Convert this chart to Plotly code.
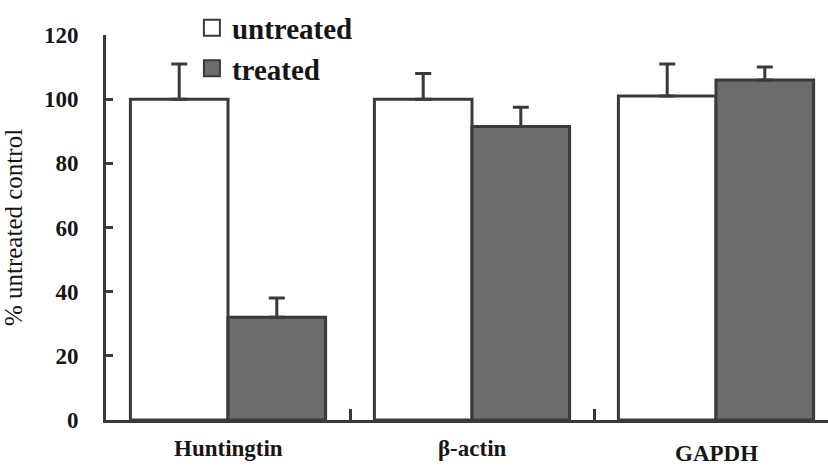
import plotly.graph_objects as go

# mRNA levels after treatment, as % of the untreated control
categories = ["Huntingtin", "β-actin", "GAPDH"]
untreated = [100, 100, 101]
untreated_err = [11, 8, 10]
treated = [32, 91.5, 106]
treated_err = [6, 6, 4]
y_ticks = [0, 20, 40, 60, 80, 100, 120]

SERIF = "Liberation Serif, Times New Roman, serif"
INK = "#3a3a3a"
TEXT = "#161616"
DARK_FILL = "#6c6c6c"

fig = go.Figure()

fig.add_trace(go.Bar(
    x=categories, y=untreated, name="untreated", showlegend=False,
    marker=dict(color="white", line=dict(color=INK, width=3)),
    error_y=dict(type="data", symmetric=False, array=untreated_err,
                 arrayminus=[0] * len(untreated), color=INK, thickness=3, width=8),
))
fig.add_trace(go.Bar(
    x=categories, y=treated, name="treated", showlegend=False,
    marker=dict(color=DARK_FILL, line=dict(color=INK, width=3)),
    error_y=dict(type="data", symmetric=False, array=treated_err,
                 arrayminus=[0] * len(treated), color=INK, thickness=3, width=8),
))

# legend entries with larger square swatches
for name, fill, grp in [("untreated", "white", "a"), ("treated", DARK_FILL, "b")]:
    fig.add_trace(go.Scatter(
        x=[None], y=[None], mode="markers", name=name, legendgroup=grp,
        marker=dict(symbol="square", size=16, color=fill, line=dict(color=INK, width=2)),
    ))

# category labels under each group
label_shift = [-28, -28, -33]
for cat, dy in zip(categories, label_shift):
    fig.add_annotation(
        x=cat, y=0, xref="x", yref="y", yshift=dy, showarrow=False,
        text=cat, font=dict(family=SERIF, size=23, color=TEXT, weight="bold"),
        yanchor="middle",
    )

fig.update_layout(
    width=828, height=467,
    margin=dict(l=106, r=0, t=35, b=47, autoexpand=False),
    paper_bgcolor="white", plot_bgcolor="white",
    barmode="group", bargap=0.2, bargroupgap=0,
    showlegend=True,
    legend=dict(
        x=0.119, y=1.085, xanchor="left", yanchor="top",
        font=dict(family=SERIF, size=29, color=TEXT, weight="bold"),
        itemsizing="trace", tracegroupgap=4, bgcolor="rgba(0,0,0,0)",
        traceorder="normal",
    ),
    xaxis=dict(
        type="category", range=[-0.5, 2.459], automargin=False,
        showline=True, linecolor=INK, linewidth=3,
        ticks="inside", tickson="boundaries", ticklen=11, tickwidth=3, tickcolor=INK,
        showticklabels=False, showgrid=False, zeroline=False,
    ),
    yaxis=dict(
        range=[0, 120], tickvals=y_ticks, automargin=False,
        showline=True, linecolor=INK, linewidth=3,
        ticks="inside", ticklen=7, tickwidth=3, tickcolor=INK,
        tickfont=dict(family=SERIF, size=23, color=TEXT, weight="bold"),
        ticklabelstandoff=20,
        showgrid=False, zeroline=False,
        title=dict(text="% untreated control", standoff=24,
                   font=dict(family=SERIF, size=25, color=TEXT)),
    ),
)

fig.write_html("out.html")
